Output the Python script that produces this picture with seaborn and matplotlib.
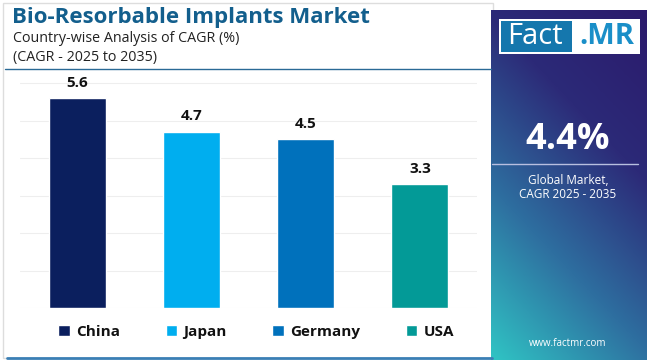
import numpy as np
import pandas as pd
import matplotlib.pyplot as plt
import seaborn as sns
from matplotlib.colors import LinearSegmentedColormap
from matplotlib.patches import Rectangle

# chart data
countries = ["China", "Japan", "Germany", "USA"]
cagr = [5.6, 4.7, 4.5, 3.3]
bar_colors = ["#0b1f5e", "#00aeef", "#0071bc", "#039a97"]
global_cagr = "4.4%"

df = pd.DataFrame({"Country": countries, "CAGR": cagr})

sns.set_theme(style="white")
plt.rcParams["font.family"] = ["Open Sans", "DejaVu Sans"]

fig = plt.figure(figsize=(6.5, 3.6), dpi=100)
W, H = 650, 360

def fx(px):
    return px / W

def fy(py):
    return 1 - py / H

# outer frame of left panel
fig.patches.append(Rectangle((fx(3), fy(358)), fx(490), (355) / H, transform=fig.transFigure,
                             facecolor="white", edgecolor="#dddddd", lw=1, zorder=-5))
fig.lines.append(plt.Line2D([fx(7), fx(492)], [fy(358), fy(358)], transform=fig.transFigure,
                            color="#3b7fb5", lw=2))

# headings
fig.text(fx(12), fy(18), "Bio-Resorbable Implants Market", fontsize=16, fontweight="bold",
         color="#135f8d", va="center")
fig.text(fx(13), fy(38), "Country-wise Analysis of CAGR (%)", fontsize=10.3, color="#222222", va="center")
fig.text(fx(13), fy(57), "(CAGR - 2025 to 2035)", fontsize=10.3, color="#222222", va="center")
fig.lines.append(plt.Line2D([fx(5), fx(491)], [fy(69), fy(69)], transform=fig.transFigure,
                            color="#2a6a96", lw=1))

# bar chart
ax = fig.add_axes([fx(20), fy(308), fx(457), 232.5 / H])
sns.barplot(data=df, x="Country", y="CAGR", hue="Country", palette=bar_colors,
            width=0.5, ax=ax, legend=False, saturation=1)
ax.set_ylim(0, 6.2)
ax.set_xlim(-0.5, 3.5)
for k in range(0, 7):
    ax.axhline(k, color="#eeeeee", lw=0.8, zorder=0)
ax.set_xticks([])
ax.set_yticks([])
ax.set_xlabel("")
ax.set_ylabel("")
sns.despine(ax=ax, left=True, bottom=True)
ax.patch.set_alpha(0)
for i, v in enumerate(cagr):
    ax.annotate(f"{v}", (i, v), xytext=(0, 6), textcoords="offset points", ha="center",
                va="bottom", fontsize=11, fontweight="bold", color="#111111")

# legend
handles = [Rectangle((0, 0), 1, 1, facecolor=c) for c in bar_colors]
leg = fig.legend(handles, countries, loc="center", bbox_to_anchor=(fx(256), fy(332)), ncol=4,
                 frameon=False, handlelength=0.75, handleheight=0.75, handletextpad=0.4,
                 columnspacing=3.0, prop={"weight": "bold", "size": 11})
for t in leg.get_texts():
    t.set_color("#111111")

# right panel with gradient
rax = fig.add_axes([fx(491), 0, fx(155), 350 / H])
cmap = LinearSegmentedColormap.from_list("panel", ["#30c4c4", "#2e6fa0", "#2c2a78", "#2b1a6c"])
xx, yy = np.meshgrid(np.linspace(0, 1, 200), np.linspace(0, 1, 400))
grad = 0.35 * xx + 0.75 * yy
rax.imshow(grad, cmap=cmap, origin="lower", aspect="auto", extent=[0, 1, 0, 1])
rax.set_xlim(0, 1)
rax.set_ylim(0, 1)
rax.axis("off")

# logo
fig.patches.append(Rectangle((fx(499), fy(54)), fx(141), 35 / H, transform=fig.transFigure,
                             facecolor="white", edgecolor="none"))
fig.patches.append(Rectangle((fx(501), fy(52)), fx(71), 31 / H, transform=fig.transFigure,
                             facecolor="#1577ad", edgecolor="none"))
fig.text(fx(535), fy(37), "Fact", fontsize=21, color="white", ha="center", va="center")
fig.text(fx(607), fy(37), ".MR", fontsize=21, fontweight="bold", color="#1a8fc8", ha="center", va="center")

fig.text(fx(568), fy(140), global_cagr, fontsize=26, fontweight="bold", color="white", ha="center", va="center")
fig.lines.append(plt.Line2D([fx(492), fx(638)], [fy(164), fy(164)], transform=fig.transFigure,
                            color="#b8bfe0", lw=1))
fig.text(fx(568), fy(180), "Global Market,", fontsize=8.5, color="white", ha="center", va="center")
fig.text(fx(568), fy(195), "CAGR 2025 - 2035", fontsize=8.5, color="white", ha="center", va="center")
fig.text(fx(568), fy(344), "www.factmr.com", fontsize=7, color="white", ha="center", va="center")

fig.savefig("out.png", dpi=100, facecolor="white")
